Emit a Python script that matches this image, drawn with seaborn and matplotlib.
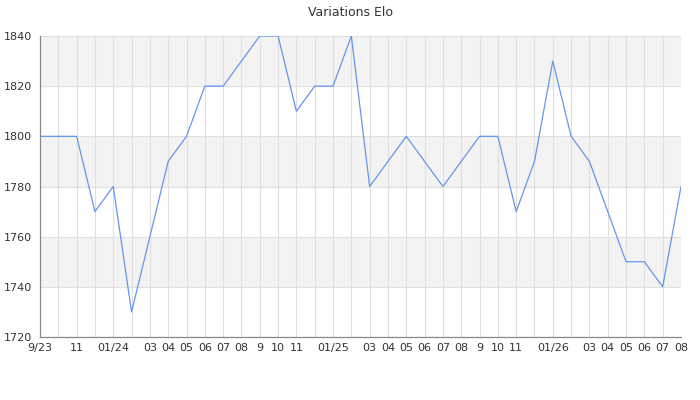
import matplotlib
matplotlib.use("Agg")
import matplotlib.pyplot as plt
import seaborn as sns
import pandas as pd
from matplotlib.ticker import MultipleLocator

months = ["9/23", "", "11", "", "01/24", "", "03", "04", "05", "06", "07", "08",
          "9", "10", "11", "", "01/25", "", "03", "04", "05", "06", "07", "08",
          "9", "10", "11", "", "01/26", "", "03", "04", "05", "06", "07", "08"]
elo = [1800, 1800, 1800, 1770, 1780, 1730, 1760, 1790, 1800, 1820, 1820, 1830,
       1840, 1840, 1810, 1820, 1820, 1840, 1780, 1790, 1800, 1790, 1780, 1790,
       1800, 1800, 1770, 1790, 1830, 1800, 1790, 1770, 1750, 1750, 1740, 1780]
y_ticks = [1720, 1740, 1760, 1780, 1800, 1820, 1840]

df = pd.DataFrame({"idx": range(len(elo)), "elo": elo})

sns.set_style("white")
plt.rcParams['font.family'] = ['DejaVu Sans']

fig = plt.figure(figsize=(7, 4), dpi=100)
ax = fig.add_axes([40/700, 1 - 337/400, (681-40)/700, (337-36)/400])

# alternating bands
for lo in [1740, 1780, 1820]:
    ax.axhspan(lo, lo + 20, color="#f3f3f3", zorder=0, lw=0)

sns.lineplot(data=df, x="idx", y="elo", ax=ax, color="#6495ed", linewidth=0.9, zorder=3)

ax.set_xlim(0, len(elo) - 1)
ax.set_ylim(1720, 1840)
ax.set_xticks(range(len(elo)))
ax.set_xticklabels(months)
ax.set_yticks(y_ticks)
ax.yaxis.set_minor_locator(MultipleLocator(10))
ax.grid(True, which="major", color="#e0e0e0", linewidth=0.8, zorder=1)
ax.set_axisbelow(True)

for s in ["top", "right"]:
    ax.spines[s].set_visible(False)
for s in ["left", "bottom"]:
    ax.spines[s].set_color("#888888")
    ax.spines[s].set_linewidth(0.9)

ax.tick_params(axis="y", which="major", length=4, color="#888888", labelsize=8, labelcolor="#333333", pad=2)
ax.tick_params(axis="y", which="minor", length=3, color="#888888")
ax.tick_params(axis="x", which="major", length=0, labelsize=8, labelcolor="#333333", pad=4)

ax.set_xlabel("")
ax.set_ylabel("")
fig.text(0.5, 1 - 12/400, "Variations Elo", ha="center", va="center", fontsize=9, color="#333333")

fig.savefig("out.png", dpi=100)
